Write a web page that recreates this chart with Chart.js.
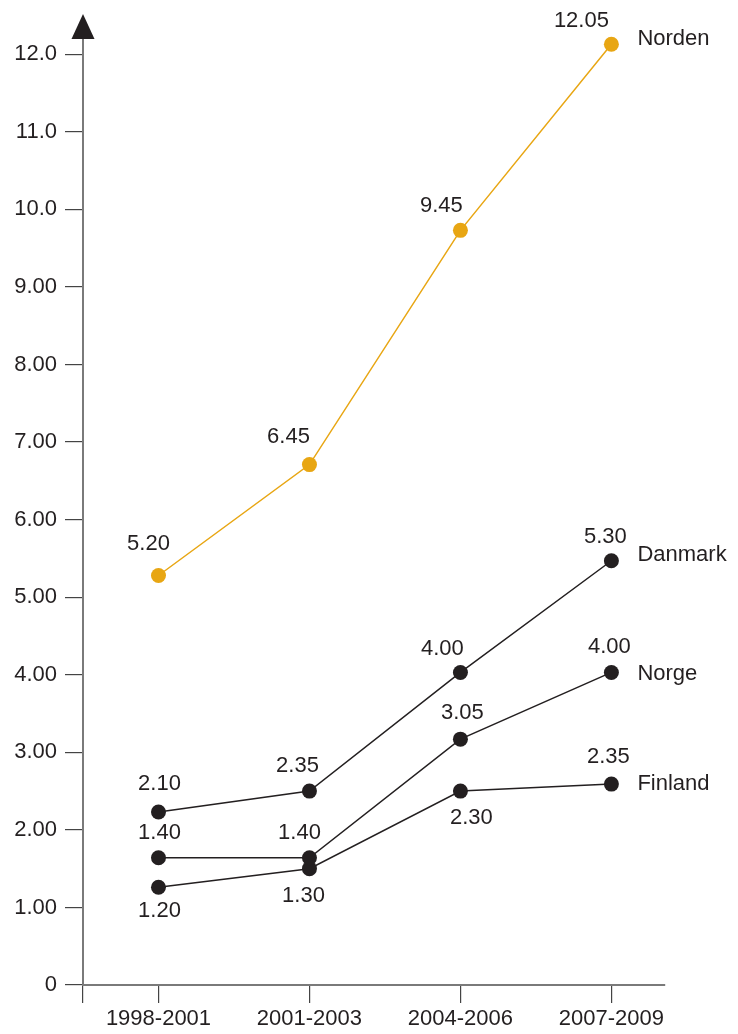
<!DOCTYPE html>
<html>
<head>
<meta charset="utf-8">
<script src="https://cdn.jsdelivr.net/npm/chart.js@4"></script>
<style>
  html, body { margin: 0; padding: 0; background: #fff; }
  #wrap { width: 738px; height: 1034px; }
</style>
</head>
<body>
<div id="wrap"><canvas id="chart" width="738" height="1034"></canvas></div>
<script>
// ─── Data ────────────────────────────────────────────────────
const periods = ['1998-2001', '2001-2003', '2004-2006', '2007-2009'];
const seriesNames = ['Norden', 'Danmark', 'Norge', 'Finland'];

// plotted positions
const nordenValues  = [5.28, 6.71, 9.73, 12.13];
const danmarkValues = [2.23, 2.50, 4.03, 5.47];
const norgeValues   = [1.64, 1.64, 3.17, 4.03];
const finlandValues = [1.26, 1.50, 2.50, 2.59];

// printed value labels
const nordenLabels  = ['5.20', '6.45', '9.45', '12.05'];
const danmarkLabels = ['2.10', '2.35', '4.00', '5.30'];
const norgeLabels   = ['1.40', '1.40', '3.05', '4.00'];
const finlandLabels = ['1.20', '1.30', '2.30', '2.35'];

const yTickValues = [0, 1, 2, 3, 4, 5, 6, 7, 8, 9, 10, 11, 12];
const yTickLabels = ['0', '1.00', '2.00', '3.00', '4.00', '5.00', '6.00',
                     '7.00', '8.00', '9.00', '10.0', '11.0', '12.0'];

// ─── Style ───────────────────────────────────────────────────
const ORANGE = '#e8a613';
const DARK   = '#231f20';
const AXIS   = '#7a7a7a';
const FONT   = "'Liberation Sans', Arial, sans-serif";

// label offsets relative to the point (dx, dy of text centre)
const labelOffsets = [
  [[-10, -32], [-21, -28], [-19, -24], [-30, -23]],
  [[1, -28], [-12, -25], [-18, -23], [-6, -24]],
  [[1, -25], [-10, -25], [2, -26], [-2, -25]],
  [[1, 24], [-6, 27], [11, 27], [-3, -27]]
];
const nameOffsetY = [-5, -6, 2, 0];

const valueLabels = [nordenLabels, danmarkLabels, norgeLabels, finlandLabels];

function makeSeries(name, values, color) {
  return {
    label: name,
    data: values.map((v, i) => ({ x: i, y: v })),
    borderColor: color,
    backgroundColor: color,
    borderWidth: 1.5,
    pointRadius: 7.5,
    pointBorderWidth: 0,
    pointHoverRadius: 7.5,
    tension: 0,
    clip: false,
  };
}

// arrow head + value and series labels
const annotate = {
  id: 'annotate',
  afterDatasetsDraw(chart) {
    const { ctx, chartArea, scales } = chart;
    const ax = scales.x.getPixelForValue(-0.5);

    ctx.save();
    ctx.fillStyle = DARK;
    ctx.beginPath();
    ctx.moveTo(ax, 14);
    ctx.lineTo(ax - 11.5, chartArea.top + 1);
    ctx.lineTo(ax + 11.5, chartArea.top + 1);
    ctx.closePath();
    ctx.fill();

    ctx.font = `22px ${FONT}`;
    ctx.fillStyle = DARK;
    ctx.textBaseline = 'middle';
    chart.data.datasets.forEach((ds, si) => {
      const meta = chart.getDatasetMeta(si);
      ctx.textAlign = 'center';
      meta.data.forEach((pt, i) => {
        const [dx, dy] = labelOffsets[si][i];
        ctx.fillText(valueLabels[si][i], pt.x + dx, pt.y + dy);
      });
      const last = meta.data[meta.data.length - 1];
      ctx.textAlign = 'left';
      ctx.fillText(seriesNames[si], last.x + 26, last.y + nameOffsetY[si]);
    });
    ctx.restore();
  }
};

new Chart(document.getElementById('chart'), {
  type: 'line',
  data: {
    datasets: [
      makeSeries('Norden', nordenValues, ORANGE),
      makeSeries('Danmark', danmarkValues, DARK),
      makeSeries('Norge', norgeValues, DARK),
      makeSeries('Finland', finlandValues, DARK),
    ]
  },
  options: {
    responsive: false,
    animation: false,
    layout: { padding: { top: 38, right: 73, left: 0, bottom: 0 } },
    plugins: {
      legend: { display: false },
      tooltip: { enabled: false },
    },
    scales: {
      x: {
        type: 'linear',
        min: -0.5,
        max: 3.355,
        afterBuildTicks: s => { s.ticks = [-0.5, 0, 1, 2, 3].map(v => ({ value: v })); },
        afterFit: s => { s.height = 49; },
        border: { color: AXIS, width: 2 },
        grid: { drawOnChartArea: false, drawTicks: true, tickLength: 18, color: '#444', lineWidth: 1.2 },
        ticks: {
          color: DARK,
          font: { family: FONT, size: 22 },
          padding: 3,
          maxRotation: 0,
          autoSkip: false,
          callback: v => (v >= 0 && Number.isInteger(v)) ? periods[v] : '',
        }
      },
      y: {
        min: 0,
        max: 12.21,
        afterBuildTicks: s => { s.ticks = yTickValues.map(v => ({ value: v })); },
        afterFit: s => { s.width = 83; },
        border: { color: AXIS, width: 2 },
        grid: { drawOnChartArea: false, drawTicks: true, tickLength: 18, color: '#444', lineWidth: 1.2 },
        ticks: {
          color: DARK,
          font: { family: FONT, size: 22 },
          padding: 8,
          autoSkip: false,
          callback: v => yTickLabels[yTickValues.indexOf(v)],
        }
      }
    }
  },
  plugins: [annotate]
});
</script>
</body>
</html>
